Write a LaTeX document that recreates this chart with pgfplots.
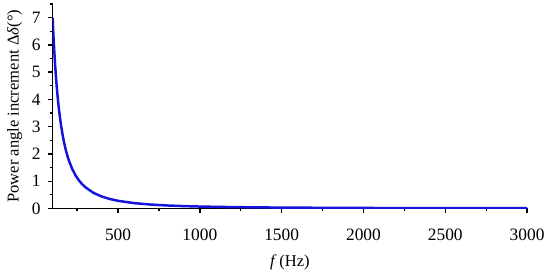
\documentclass[border=0pt]{standalone}
\usepackage{fontspec}
\setmainfont{Liberation Serif}
\usepackage{pgfplots}
\pgfplotsset{compat=1.18}
\definecolor{curve}{RGB}{20,20,220}

\begin{document}
\fontsize{10}{12}\selectfont
\begin{tikzpicture}
\begin{axis}[
  scale only axis, width=286.8pt, height=123.6pt,
  xmin=100, xmax=3000, ymin=0, ymax=7.5,
  axis lines*=left, axis line style={line width=0.9pt},
  tick align=outside, tick style={black, line width=0.8pt},
  major tick length=2.8pt, minor tick length=1.8pt,
  xtick={500,1000,...,3000}, minor xtick={250,750,...,2750},
  ytick={0,1,...,7}, minor ytick={0.5,1.5,...,7.5},
  scaled x ticks=false,
  /pgf/number format/assume math mode=true,
  /pgf/number format/1000 sep={},
  tick label style={font=\fontsize{10.5}{12}\selectfont},
  xticklabel style={yshift=-6pt},
  yticklabel style={xshift=-1pt},
  xlabel={\textit{f}\,(Hz)},
  ylabel={Power angle increment Δ\textit{δ}(°)},
  xlabel style={yshift=-2pt},
  ylabel style={yshift=-1pt},
]
\addplot[color=curve, line width=1.5pt] coordinates {
 (100,7.000) (105,6.349) (110,5.785) (115,5.293) (120,4.861) (125,4.480)
 (130,4.142) (135,3.841) (140,3.571) (150,3.111) (160,2.734) (170,2.422)
 (180,2.160) (190,1.939) (200,1.750) (220,1.446) (240,1.215) (260,1.036)
 (280,0.893) (300,0.778) (350,0.571) (400,0.438) (450,0.346) (500,0.280)
 (600,0.194) (700,0.143) (800,0.109) (900,0.086) (1000,0.070) (1200,0.049)
 (1500,0.031) (2000,0.018) (2500,0.011) (3000,0.008)
};
\end{axis}
\path[use as bounding box] (-31.8pt,-39.6pt) rectangle (298.2pt,126pt);
\end{tikzpicture}
\end{document}
